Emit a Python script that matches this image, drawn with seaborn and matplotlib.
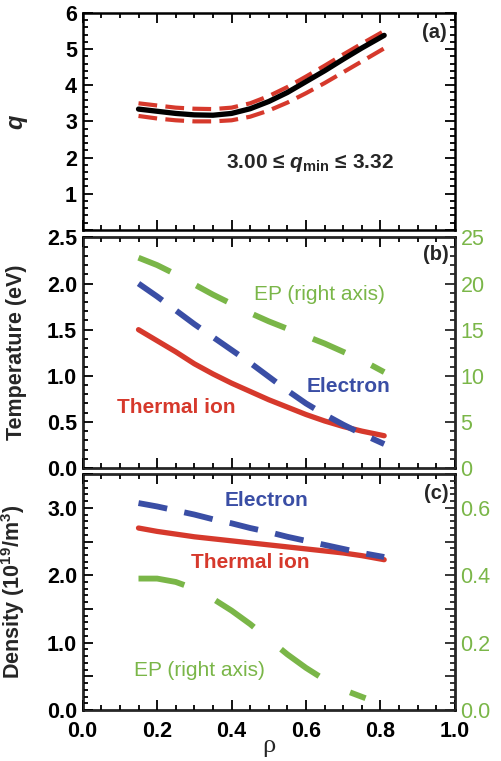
import matplotlib
matplotlib.use("Agg")
import matplotlib.pyplot as plt
import matplotlib.ticker as mticker
import seaborn as sns

# radial grid (rho) of the profiles
rho = [0.15, 0.20, 0.25, 0.30, 0.35, 0.40, 0.45, 0.50, 0.55, 0.60, 0.65, 0.70, 0.75, 0.81]

# (a) safety factor q and its uncertainty band
q_mid = [3.34, 3.28, 3.22, 3.18, 3.17, 3.22, 3.35, 3.55, 3.80, 4.10, 4.40, 4.72, 5.03, 5.38]
q_up = [3.50, 3.44, 3.38, 3.35, 3.34, 3.38, 3.50, 3.70, 3.95, 4.24, 4.54, 4.85, 5.15, 5.50]
q_low = [3.15, 3.08, 3.03, 3.00, 3.00, 3.03, 3.13, 3.30, 3.52, 3.78, 4.06, 4.36, 4.66, 5.02]

# (b) temperatures
T_ion = [1.50, 1.38, 1.26, 1.13, 1.02, 0.92, 0.83, 0.74, 0.66, 0.58, 0.51, 0.45, 0.40, 0.35]
T_e = [2.00, 1.86, 1.71, 1.56, 1.42, 1.28, 1.14, 0.99, 0.84, 0.70, 0.58, 0.47, 0.37, 0.26]
T_ep = [22.8, 22.0, 21.0, 19.9, 18.8, 17.8, 16.8, 15.9, 15.1, 14.3, 13.5, 12.6, 11.7, 10.4]

# (c) densities
n_ion = [2.70, 2.65, 2.61, 2.57, 2.54, 2.51, 2.48, 2.45, 2.42, 2.39, 2.36, 2.33, 2.29, 2.23]
n_e = [3.07, 3.02, 2.96, 2.90, 2.83, 2.77, 2.70, 2.64, 2.57, 2.51, 2.45, 2.39, 2.33, 2.27]
rho_ep = [0.15, 0.20, 0.25, 0.30, 0.35, 0.40, 0.45, 0.50, 0.55, 0.60, 0.65, 0.70, 0.76]
n_ep = [0.39, 0.39, 0.38, 0.36, 0.33, 0.295, 0.255, 0.21, 0.165, 0.125, 0.09, 0.06, 0.035]

RED = "#d6392c"
BLUE = "#3a4ea5"
GREEN = "#7ab648"
TICK_FS = 15.5

sns.set_style("ticks")
plt.rcParams["font.family"] = ["Liberation Sans", "DejaVu Sans"]
plt.rcParams["font.weight"] = "bold"
plt.rcParams["axes.labelweight"] = "bold"
plt.rcParams["font.size"] = 14
plt.rcParams["mathtext.fontset"] = "custom"
plt.rcParams["mathtext.rm"] = "Liberation Sans:bold"
plt.rcParams["mathtext.it"] = "Liberation Sans:italic:bold"


def frame(ax):
    ax.tick_params(direction="in", which="both", top=True, right=True,
                   width=1.3, labelsize=TICK_FS, pad=4, colors="black")
    ax.tick_params(which="major", length=7)
    ax.tick_params(which="minor", length=3.5)
    for s in ax.spines.values():
        s.set_linewidth(1.8)
        s.set_color("black")
    ax.set_xlim(0, 1)
    ax.xaxis.set_major_locator(mticker.MultipleLocator(0.2))
    ax.xaxis.set_minor_locator(mticker.MultipleLocator(0.05))


def right_axis(ax2):
    ax2.tick_params(direction="in", which="both", width=1.3, labelsize=TICK_FS, pad=4)
    ax2.tick_params(which="major", length=7)
    ax2.tick_params(which="minor", length=3.5)
    ax2.set_ylabel("")


fig = plt.figure(figsize=(5.01, 7.61), dpi=100)
L, W = 0.165, 0.743
ax_a = fig.add_axes([L, 0.698, W, 0.285])
ax_b = fig.add_axes([L, 0.385, W, 0.303])
ax_c = fig.add_axes([L, 0.067, W, 0.310])

# ---- (a) q profile
frame(ax_a)
sns.lineplot(x=rho, y=q_up, ax=ax_a, color=RED, lw=3, linestyle=(0, (4.5, 2)))
sns.lineplot(x=rho, y=q_low, ax=ax_a, color=RED, lw=3, linestyle=(0, (4.5, 2)))
sns.lineplot(x=rho, y=q_mid, ax=ax_a, color="black", lw=3.8)
ax_a.set_ylim(0, 6)
ax_a.yaxis.set_major_locator(mticker.MultipleLocator(1))
ax_a.yaxis.set_minor_locator(mticker.MultipleLocator(0.2))
ax_a.yaxis.set_major_formatter(mticker.FuncFormatter(lambda v, p: "" if v < 0.5 else f"{v:.0f}"))
ax_a.tick_params(labelbottom=False)
ax_a.set_ylabel("q", style="italic", fontsize=17)
ax_a.yaxis.set_label_coords(-0.15, 0.5)
ax_a.text(0.946, 5.47, "(a)", ha="center", va="center", fontsize=14.5)
ax_a.text(0.611, 1.85, r"3.00 ≤ $q_{\rm min}$ ≤ 3.32", ha="center", va="center", fontsize=15)

# ---- (b) temperature
frame(ax_b)
ax_b.tick_params(which="both", right=False)
sns.lineplot(x=rho, y=T_ion, ax=ax_b, color=RED, lw=3.8)
sns.lineplot(x=rho, y=T_e, ax=ax_b, color=BLUE, lw=4.2, linestyle=(0, (5, 3)))
ax_b.set_ylim(0, 2.5)
ax_b.yaxis.set_major_locator(mticker.MultipleLocator(0.5))
ax_b.yaxis.set_minor_locator(mticker.MultipleLocator(0.1))
ax_b.yaxis.set_major_formatter(mticker.FormatStrFormatter("%.1f"))
ax_b.tick_params(labelbottom=False)
ax_b.set_ylabel("Temperature (eV)", fontsize=15.5)
ax_b.yaxis.set_label_coords(-0.15, 0.5)
ax_b2 = ax_b.twinx()
sns.lineplot(x=rho, y=T_ep, ax=ax_b2, color=GREEN, lw=4.2, linestyle=(0, (6, 5)))
ax_b2.set_ylim(0, 25)
ax_b2.set_yticks([0, 5, 10, 15, 20, 25])
ax_b2.set_yticklabels(["0", "5", "10", "15", "20", "25"], fontweight="normal", color=GREEN)
ax_b2.yaxis.set_minor_locator(mticker.MultipleLocator(1))
right_axis(ax_b2)
ax_b.text(0.95, 2.31, "(b)", ha="center", va="center", fontsize=14.5)
ax_b.text(0.637, 1.88, "EP (right axis)", ha="center", va="center", color=GREEN,
          fontsize=15, fontweight="normal")
ax_b.text(0.713, 0.88, "Electron", ha="center", va="center", color=BLUE, fontsize=15)
ax_b.text(0.252, 0.66, "Thermal ion", ha="center", va="center", color=RED, fontsize=15)

# ---- (c) density
frame(ax_c)
ax_c.tick_params(which="both", right=False)
ax_c.tick_params(axis="x", pad=8)
sns.lineplot(x=rho, y=n_ion, ax=ax_c, color=RED, lw=3.8)
sns.lineplot(x=rho, y=n_e, ax=ax_c, color=BLUE, lw=4.2, linestyle=(0, (5, 3)))
ax_c.set_ylim(0, 3.5)
ax_c.yaxis.set_major_locator(mticker.MultipleLocator(0.5))
ax_c.yaxis.set_minor_locator(mticker.MultipleLocator(0.1))
ax_c.yaxis.set_major_formatter(mticker.FuncFormatter(
    lambda v, p: f"{v:.1f}" if abs(v - round(v)) < 1e-6 and v < 3.4 else ""))
ax_c.xaxis.set_major_formatter(mticker.FormatStrFormatter("%.1f"))
ax_c.set_ylabel("Density (10$^{19}$/m$^3$)", fontsize=15.5)
ax_c.yaxis.set_label_coords(-0.15, 0.5)
ax_c.set_xlabel("ρ", family="Liberation Serif", fontweight="normal", fontsize=19, labelpad=-5)
ax_c2 = ax_c.twinx()
sns.lineplot(x=rho_ep, y=n_ep, ax=ax_c2, color=GREEN, lw=4.2, linestyle=(0, (8, 6)))
ax_c2.set_ylim(0, 0.7)
ax_c2.set_yticks([0.0, 0.1, 0.2, 0.3, 0.4, 0.5, 0.6, 0.7])
ax_c2.set_yticklabels(["0.0", "", "0.2", "", "0.4", "", "0.6", ""], fontweight="normal", color=GREEN)
ax_c2.yaxis.set_minor_locator(mticker.MultipleLocator(0.02))
right_axis(ax_c2)
ax_c.text(0.951, 3.21, "(c)", ha="center", va="center", fontsize=14.5)
ax_c.text(0.494, 3.11, "Electron", ha="center", va="center", color=BLUE, fontsize=15)
ax_c.text(0.449, 2.19, "Thermal ion", ha="center", va="center", color=RED, fontsize=15)
ax_c.text(0.315, 0.59, "EP (right axis)", ha="center", va="center", color=GREEN,
          fontsize=15, fontweight="normal")

fig.savefig("out.png", dpi=100)
